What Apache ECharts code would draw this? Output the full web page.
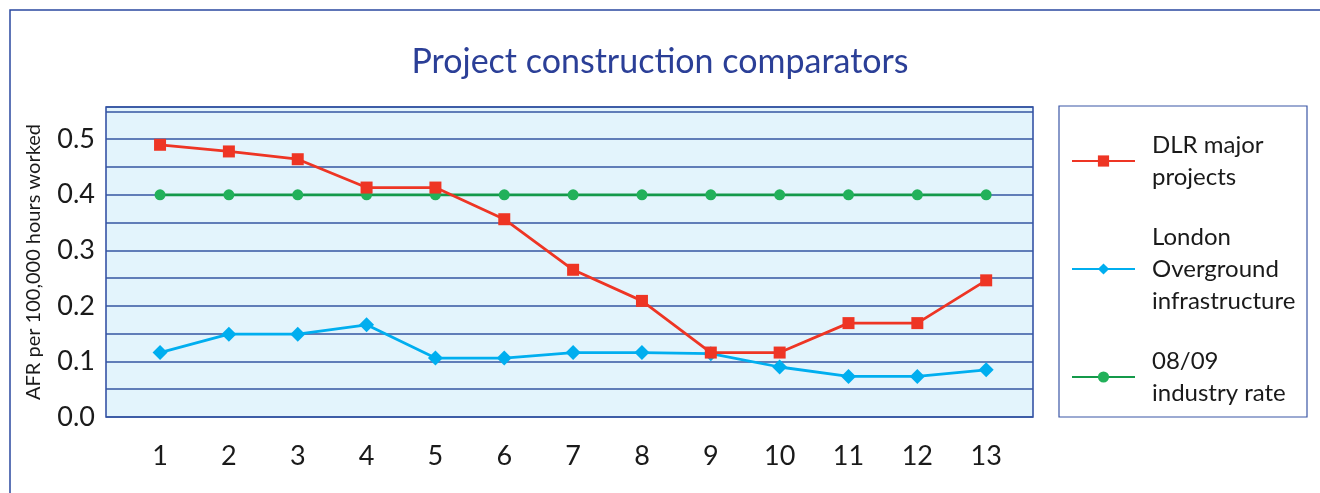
<!DOCTYPE html>
<html>
<head>
<meta charset="utf-8">
<script src="https://cdn.jsdelivr.net/npm/echarts@6/dist/echarts.min.js"></script>
<style>
  html, body { margin: 0; padding: 0; background: #fff; }
  #chart { width: 1320px; height: 493px; }
</style>
</head>
<body>
<div id="chart"></div>
<script>
// data
var categories = [1, 2, 3, 4, 5, 6, 7, 8, 9, 10, 11, 12, 13];
var dlrValues = [0.49, 0.478, 0.464, 0.413, 0.413, 0.356, 0.265, 0.209, 0.116, 0.116, 0.169, 0.169, 0.246];
var overgroundValues = [0.116, 0.149, 0.149, 0.166, 0.106, 0.106, 0.116, 0.116, 0.114, 0.09, 0.073, 0.073, 0.085];
var industryValues = [0.4, 0.4, 0.4, 0.4, 0.4, 0.4, 0.4, 0.4, 0.4, 0.4, 0.4, 0.4, 0.4];
var yTicks = [0, 0.1, 0.2, 0.3, 0.4, 0.5];

var font = 'Lato, "Open Sans", sans-serif';
var frameBlue = '#2a48a0';

function pairs(vals) {
    return categories.map(function (c, i) { return [c, vals[i]]; });
}

var myChart = echarts.init(document.getElementById('chart'));

var option = {
    backgroundColor: '#fff',
    animation: false,
    title: {
        text: 'Project construction comparators',
        left: 'center',
        top: 40,
        textStyle: { color: '#2b3f97', fontSize: 34, fontWeight: 'normal', fontFamily: font }
    },
    graphic: [
        // outer frame
        { type: 'rect', shape: { x: 10, y: 10, width: 1330, height: 500 },
          style: { fill: 'none', stroke: frameBlue, lineWidth: 1.5 }, silent: true },
        // legend box
        { type: 'rect', shape: { x: 1059, y: 106, width: 248, height: 311 },
          style: { fill: '#fff', stroke: '#3b56a6', lineWidth: 1.2 }, z: 0, silent: true }
    ],
    grid: {
        left: 106, top: 107, right: 287, bottom: 76,
        show: true,
        backgroundColor: '#e3f4fc',
        borderColor: frameBlue,
        borderWidth: 1.5
    },
    legend: {
        orient: 'vertical',
        left: 1066,
        top: 124,
        itemWidth: 63,
        itemHeight: 14,
        itemGap: 28,
        textStyle: { fontFamily: font, fontSize: 24, color: '#1a1a1a', lineHeight: 32, padding: [0, 0, 0, 12] },
        data: ['DLR major\nprojects', 'London\nOverground\ninfrastructure', '08/09\nindustry rate']
    },
    xAxis: {
        type: 'value',
        min: 0.215,
        max: 13.68,
        axisLine: { show: false },
        axisTick: { show: false },
        splitLine: { show: false },
        axisLabel: {
            customValues: categories,
            margin: 26,
            fontFamily: font,
            fontSize: 27,
            color: '#1a1a1a'
        }
    },
    yAxis: {
        type: 'value',
        min: 0,
        max: 0.558,
        interval: 0.05,
        name: 'AFR per 100,000 hours worked',
        nameLocation: 'middle',
        nameGap: 62,
        nameTextStyle: { fontFamily: font, fontSize: 20, color: '#1a1a1a' },
        axisLine: { show: false },
        axisTick: { show: false },
        axisLabel: {
            margin: 11,
            fontFamily: font,
            fontSize: 27,
            color: '#1a1a1a',
            showMaxLabel: false,
            formatter: function (v) {
                for (var i = 0; i < yTicks.length; i++) {
                    if (Math.abs(v - yTicks[i]) < 1e-6) return yTicks[i].toFixed(1);
                }
                return '';
            }
        },
        splitLine: { lineStyle: { color: '#3456a2', width: 1.5 } }
    },
    series: [
        {
            name: 'DLR major\nprojects',
            type: 'line',
            data: pairs(dlrValues),
            symbol: 'rect',
            symbolSize: 12,
            z: 4,
            itemStyle: { color: '#ee3524' },
            lineStyle: { color: '#ee3524', width: 2.8 }
        },
        {
            name: 'London\nOverground\ninfrastructure',
            type: 'line',
            data: pairs(overgroundValues),
            symbol: 'diamond',
            symbolSize: 15,
            z: 3,
            itemStyle: { color: '#00aeef' },
            lineStyle: { color: '#00aeef', width: 2.8 }
        },
        {
            name: '08/09\nindustry rate',
            type: 'line',
            data: pairs(industryValues),
            symbol: 'circle',
            symbolSize: 11,
            z: 2,
            itemStyle: { color: '#22b15a' },
            lineStyle: { color: '#14994a', width: 2.8 }
        }
    ]
};

myChart.setOption(option);
</script>
</body>
</html>
